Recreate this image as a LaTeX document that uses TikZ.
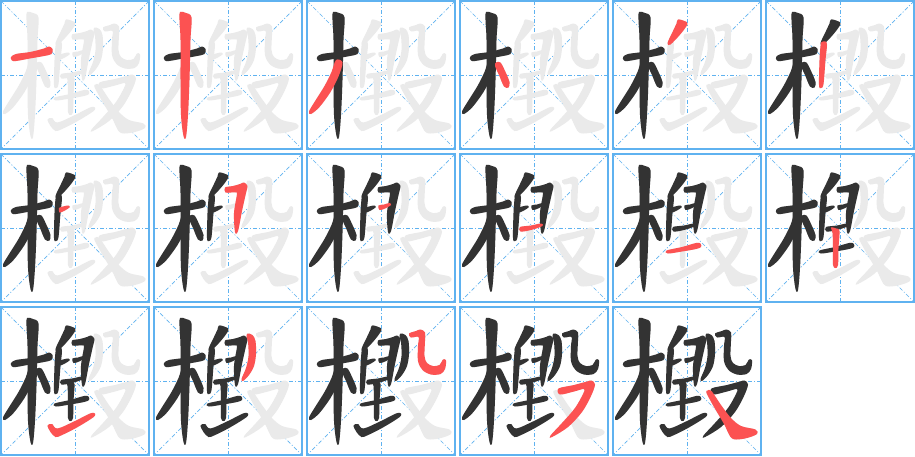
\documentclass[tikz,border=0pt]{standalone}
\definecolor{gridblue}{RGB}{95,178,240}
\definecolor{inkgray}{RGB}{234,234,234}
\definecolor{inkblack}{RGB}{51,51,51}
\definecolor{inkred}{RGB}{252,82,82}
\tikzset{
  cellbox/.style={draw=gridblue, line width=1.3pt},
  gridline/.style={draw=gridblue, line width=0.7pt, dash pattern=on 4pt off 2pt on 1pt off 2pt},
  brush/.style={smooth cycle, tension=0.55}
}
\expandafter\def\csname stk1\endcsname{plot[brush] coordinates {(11,57) (16,54) (30,52) (44,48.5) (49,46.5) (52.5,49) (51.5,54) (44,56) (30,58.5) (16,61) (12,60.5)}}
\expandafter\def\csname stk2\endcsname{plot[brush] coordinates {(27,12) (33,13) (38.5,17.5) (37.5,40) (36.5,80) (35,115) (33,137) (30.5,136) (28,115) (27.5,80) (27.5,40) (26.5,20)}}
\expandafter\def\csname stk3\endcsname{plot[brush] coordinates {(30,60) (36.5,62.5) (32.5,76.5) (24.5,92) (13.5,107) (5,114) (3,111.5) (8.5,102) (18.5,86) (25.5,72)}}
\expandafter\def\csname stk4\endcsname{plot[brush] coordinates {(37,62.5) (41.5,62.5) (46.5,72) (50.5,82) (49.5,87.5) (45,86.5) (40,75) (36,66)}}
\expandafter\def\csname stk5\endcsname{plot[brush] coordinates {(66,19.5) (72.5,21) (75.5,24) (69,33.5) (58.5,44.5) (55.5,43) (61,31) (64.5,23.5)}}
\expandafter\def\csname stk6\endcsname{plot[brush] coordinates {(56.5,42) (60.5,41.5) (62,45) (60.5,60) (58.5,84) (56,88) (54,85) (54.5,60) (55.5,46)}}
\expandafter\def\csname stk7\endcsname{plot[brush] coordinates {(59,55) (63,53.5) (68.5,52.5) (69.5,54.5) (64,58) (59.5,59.5)}}
\expandafter\def\csname stk8\endcsname{plot[brush] coordinates {(72,34.5) (80,33) (87,31) (91,29.5) (94.5,33) (93,40) (89,58) (85,78) (82,79) (81,60) (84,41) (83,39.5) (78,39.5) (72.5,39.5)}}
\expandafter\def\csname stk9\endcsname{plot[brush] coordinates {(72.5,52.5) (78,51.5) (83.5,50) (85,52) (79,55.5) (73.5,57)}}
\expandafter\def\csname stk10\endcsname{plot[brush] coordinates {(61,74) (72,72.5) (82,70.5) (83.5,73) (72,77) (61.5,78.5)}}
\expandafter\def\csname stk11\endcsname{plot[brush] coordinates {(54.5,97.5) (70,94) (84,90) (88.5,90.5) (89,94) (84,96) (70,98.5) (56,100.5)}}
\expandafter\def\csname stk12\endcsname{plot[brush] coordinates {(66,74.5) (71.5,75.5) (74.5,78) (73.5,95) (73,112) (70.5,115) (68,112) (68,95) (67.5,80)}}
\expandafter\def\csname stk13\endcsname{plot[brush] coordinates {(47.5,119.5) (52,118) (57.5,122.5) (75,115) (90,107.5) (95,107.5) (93,111.5) (76,122) (61,129.5) (55.5,131) (50.5,126)}}
\expandafter\def\csname stk14\endcsname{plot[brush] coordinates {(94.5,27.5) (99.5,29) (102.5,35) (103,48) (101,60) (96,69) (90,75) (88.5,73) (93,62) (95.5,50) (95,36) (93.5,31)}}
\expandafter\def\csname stk15\endcsname{plot[brush] coordinates {(103,27.5) (110,25) (114.5,23.5) (119,26.5) (119,35) (118.5,50) (121,57) (127,60) (133.5,59) (137,53.5) (140,54.5) (139,63) (134.5,68) (125,68.5) (116.5,64) (112,55) (112,40) (112.5,31) (105,31.5)}}
\expandafter\def\csname stk16\endcsname{plot[brush] coordinates {(99.5,82.5) (115,79) (128,75.5) (132.5,74.5) (136,78.5) (132,90) (123,106) (109,121) (93,131) (91.5,129.5) (103,117) (116,102) (124,88) (125,83) (115,85.5) (101,88.5)}}
\expandafter\def\csname stk17\endcsname{plot[brush] coordinates {(95.5,84.5) (99.5,85) (109,99) (119,112) (129,120) (143.5,123.5) (145,128) (135,132) (124,133.5) (118.5,131) (112,118) (102,101) (94.5,87)}}
\begin{document}
\begin{tikzpicture}[x=1pt,y=-1pt]
\useasboundingbox (0,0) rectangle (915,456);
\fill[white] (0,0) rectangle (915,456);
\foreach \k in {1,...,17}{
  \pgfmathtruncatemacro\rr{(\k-1)/6}
  \pgfmathtruncatemacro\cc{\k-1-6*\rr}
  \begin{scope}[shift={(153*\cc,153*\rr)}]
    \draw[gridline] (1,1) -- (149,149);
    \draw[gridline] (149,1) -- (1,149);
    \draw[gridline] (75,1) -- (75,149);
    \draw[gridline] (1,75) -- (149,75);
    \draw[cellbox] (1,1) rectangle (149,149);
    \foreach \s in {1,...,17}{
      \expandafter\let\expandafter\curpath\csname stk\s\endcsname
      \fill[inkgray] \curpath;
    }
    \foreach \s in {1,...,17}{
      \expandafter\let\expandafter\curpath\csname stk\s\endcsname
      \ifnum\s<\k \fill[inkblack] \curpath; \fi
      \ifnum\s=\k \fill[inkred] \curpath; \fi
    }
  \end{scope}
}
\end{tikzpicture}
\end{document}
